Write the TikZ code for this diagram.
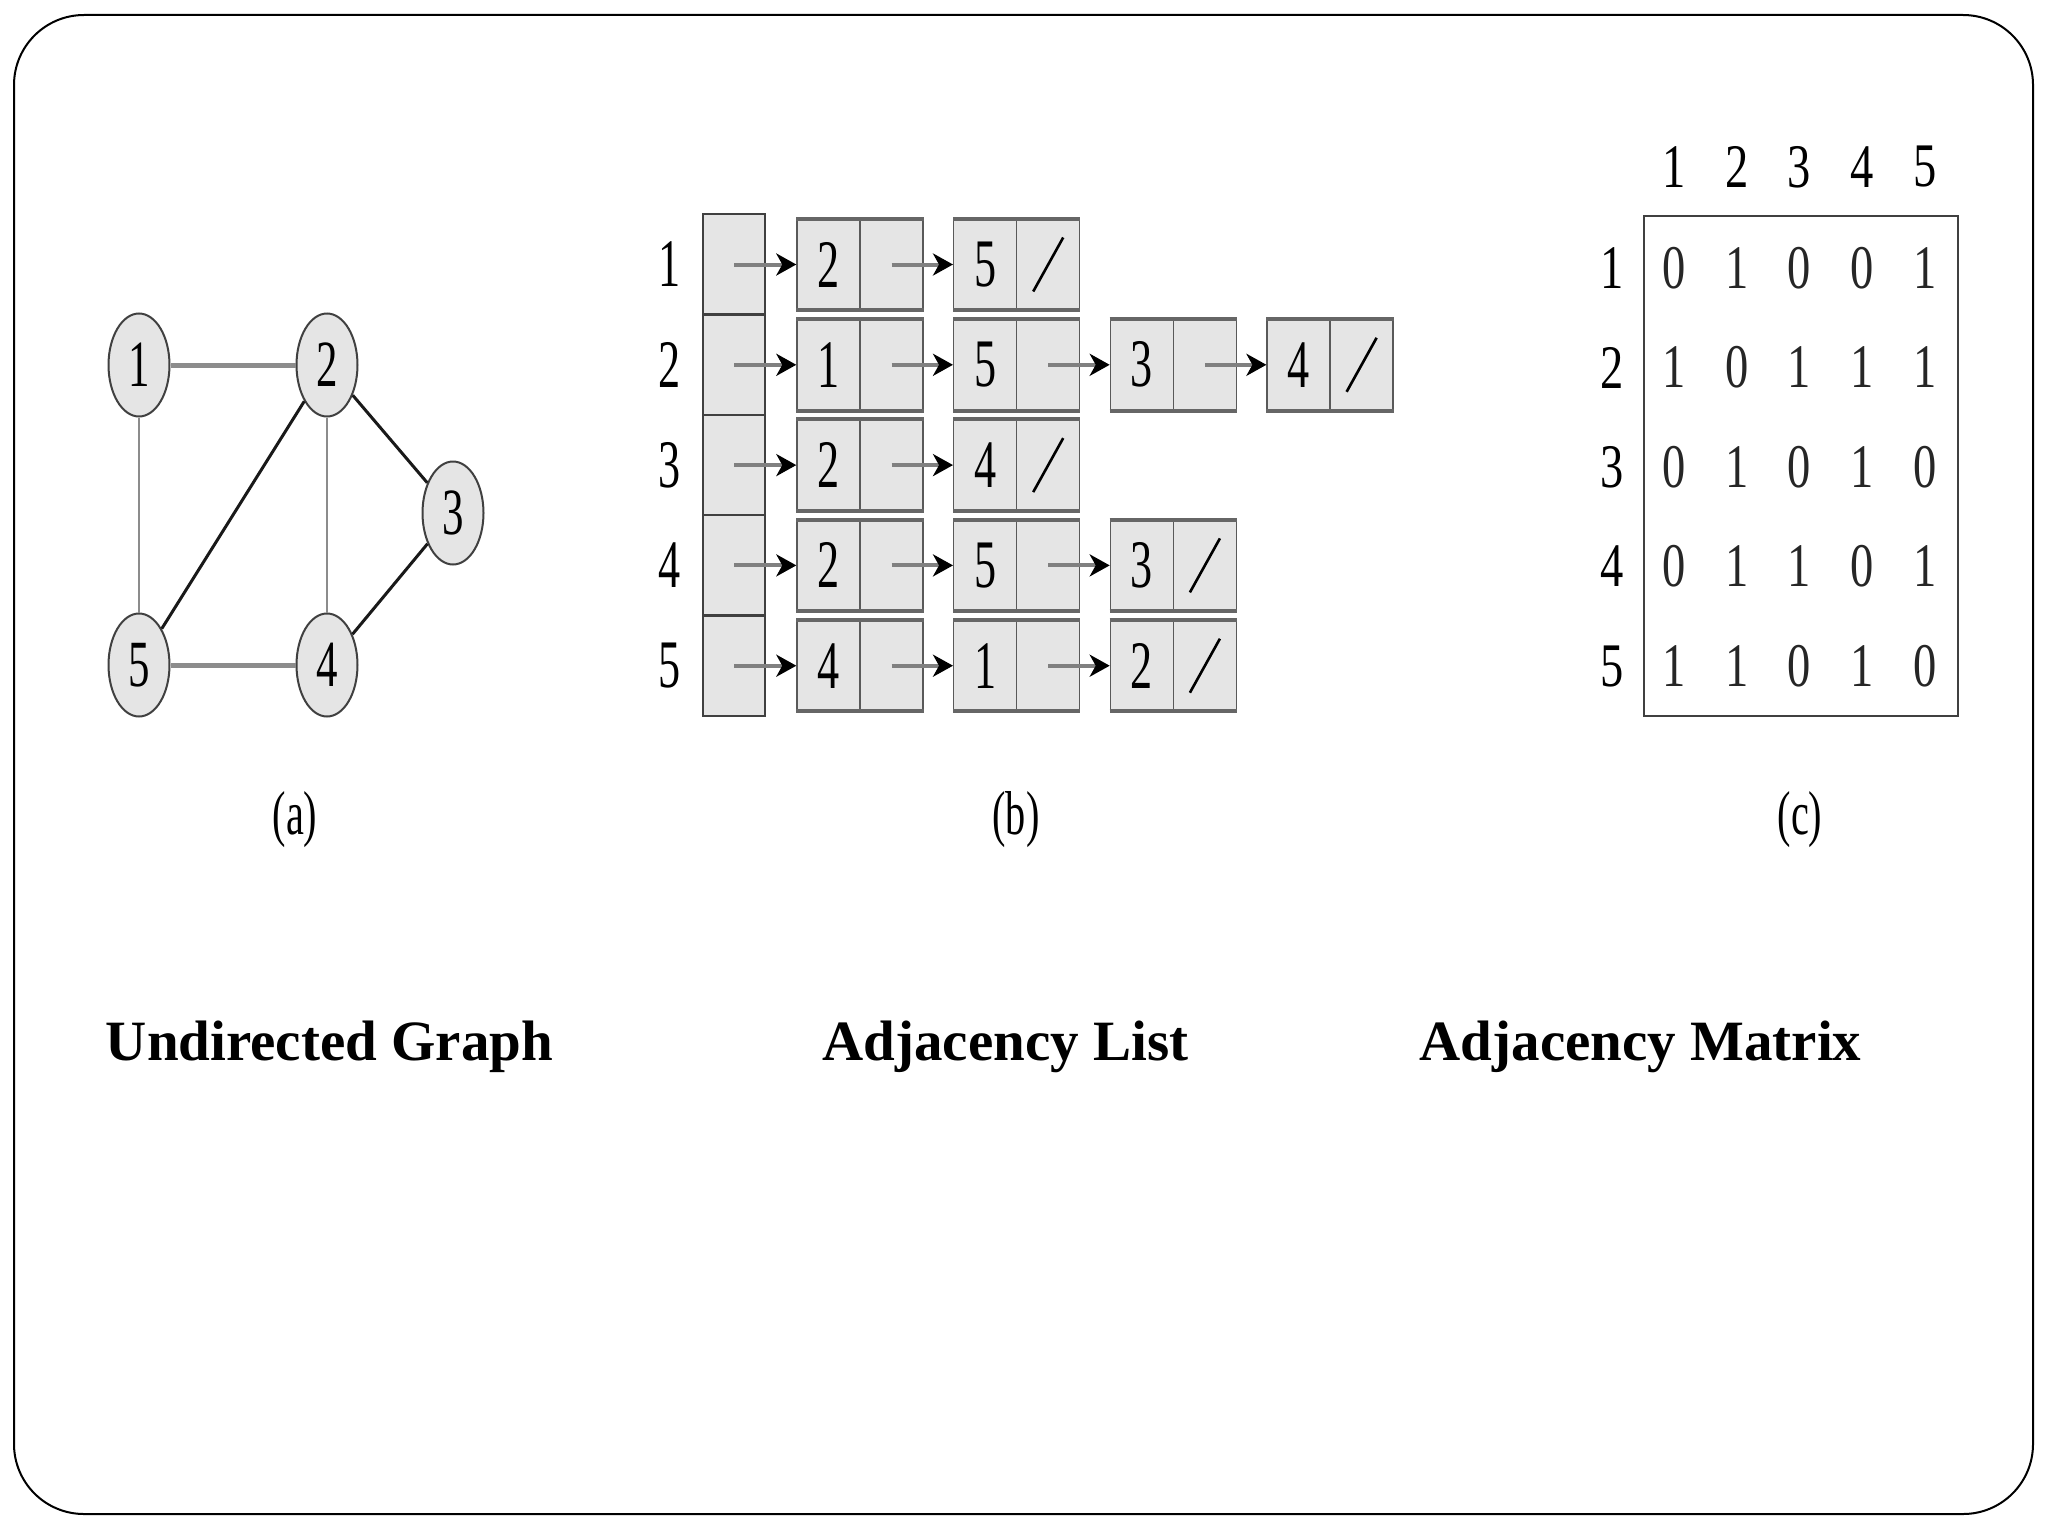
\documentclass[tikz,border=0pt]{standalone}
\usepackage{fontspec}
\usepackage{graphicx}
\setmainfont{Liberation Serif}
\usetikzlibrary{shapes.geometric,arrows.meta}
\newcommand{\dg}[2][0.65]{\scalebox{#1}[1]{#2}}
\begin{document}
\begin{tikzpicture}[x=0.5pt,y=-0.5pt,
  digit/.style={inner sep=0pt, font=\fontsize{31pt}{31pt}\selectfont},
  vert/.style={ellipse, draw=black!75, line width=1pt, fill=gray!20, minimum width=30.5pt, minimum height=51.5pt, inner sep=0pt, font=\fontsize{33pt}{33pt}\selectfont},
  gthick/.style={draw=black!45, line width=2.5pt},
  gthin/.style={draw=black!45, line width=1pt},
  bedge/.style={draw=black!90, line width=1.5pt},
  cell/.style={rectangle, draw=black!65, line width=0.7pt, fill=gray!20, minimum width=31.5pt, minimum height=45pt, inner sep=0pt, font=\fontsize{34pt}{34pt}\selectfont},
  headcell/.style={rectangle, draw=black!75, line width=1.2pt, fill=gray!20, minimum width=31pt, minimum height=50.3pt, inner sep=0pt},
  boxedge/.style={draw=black!60, line width=2pt},
  ptr/.style={draw=black!50, line width=2pt, -{Stealth[length=10pt,width=11pt,inset=3pt,black]}},
  slash/.style={draw=black, line width=1.3pt},
  title/.style={inner sep=0pt, anchor=base, font=\fontsize{28.5pt}{28.5pt}\selectfont\bfseries},
  sublabel/.style={inner sep=0pt, font=\fontsize{31pt}{31pt}\selectfont}
]
\useasboundingbox (0,0) rectangle (2048,1536);
\draw[line width=1pt, rounded corners=35pt] (14,15) rectangle (2033,1514);

% (a) undirected graph
\node[vert] (v1) at (139,365) {\dg{1}};
\node[vert] (v2) at (327,365) {\dg{2}};
\node[vert] (v3) at (453,513) {\dg{3}};
\node[vert] (v4) at (327,665) {\dg{4}};
\node[vert] (v5) at (139,665) {\dg{5}};
\draw[gthick] (v1) -- (v2);
\draw[gthin] (v1) -- (v5);
\draw[bedge] (v2) -- (v5);
\draw[gthin] (v2) -- (v4);
\draw[bedge] (v2) -- (v3);
\draw[bedge] (v3) -- (v4);
\draw[gthick] (v5) -- (v4);
\node[sublabel] (la) at (295,820) {\dg{(a)}};

% (b) adjacency list
\foreach \r/\y in {1/264.5,2/364.8,3/465.1,4/565.4,5/665.7}{
  \node[digit, font=\fontsize{34pt}{34pt}\selectfont] (rl\r) at (670,\y) {\dg{\r}};
  \node[headcell] (H-\r) at (734,\y) {};
}
\foreach \r/\y/\n/\lst in {1/264.5/2/{2,5}, 2/364.8/4/{1,5,3,4}, 3/465.1/2/{2,4}, 4/565.4/3/{2,5,3}, 5/665.7/3/{4,1,2}}{
  \foreach \v [count=\k] in \lst {
    \pgfmathsetmacro{\xv}{828.5+156.7*(\k-1)}
    \node[cell] (L-\r-\k) at (\xv,\y) {\dg{\v}};
    \node[cell] (P-\r-\k) at (\xv+63,\y) {};
    \draw[boxedge] (L-\r-\k.north west) -- (P-\r-\k.north east);
    \draw[boxedge] (L-\r-\k.south west) -- (P-\r-\k.south east);
    \ifnum\k=1
      \draw[ptr] (H-\r.center) -- (L-\r-\k.west);
    \else
      \pgfmathtruncatemacro{\km}{\k-1}
      \draw[ptr] (P-\r-\km.center) -- (L-\r-\k.west);
    \fi
    \ifnum\k=\n
      \draw[slash] ([xshift=-7.5pt,yshift=-13.5pt]P-\r-\k.center) -- ([xshift=7.5pt,yshift=13.5pt]P-\r-\k.center);
    \fi
  }
}
\node[sublabel] (lb) at (1016,820) {\dg{(b)}};

% (c) adjacency matrix
\node[draw=black!75, line width=1pt, minimum width=157pt, minimum height=250pt, inner sep=0pt] (M) at (1801,466) {};
\foreach \j in {1,...,5}{
  \node[digit] (ch\j) at ({1674+62.75*(\j-1)},167) {\dg[0.75]{\j}};
}
\foreach \i/\row in {1/{0,1,0,0,1}, 2/{1,0,1,1,1}, 3/{0,1,0,1,0}, 4/{0,1,1,0,1}, 5/{1,1,0,1,0}}{
  \node[digit] (rh\i) at (1612,{268+99.5*(\i-1)}) {\dg[0.75]{\i}};
  \foreach \e [count=\j] in \row {
    \node[digit, text=black!85] (m\i\j) at ({1674+62.75*(\j-1)},{268+99.5*(\i-1)}) {\dg[0.75]{\e}};
  }
}
\node[sublabel] (lc) at (1800,820) {\dg{(c)}};

% titles
\node[title] (t1) at (329.5,1060) {Undirected Graph};
\node[title] (t2) at (1005.5,1060) {Adjacency List};
\node[title] (t3) at (1640.5,1060) {Adjacency Matrix};
\end{tikzpicture}
\end{document}
